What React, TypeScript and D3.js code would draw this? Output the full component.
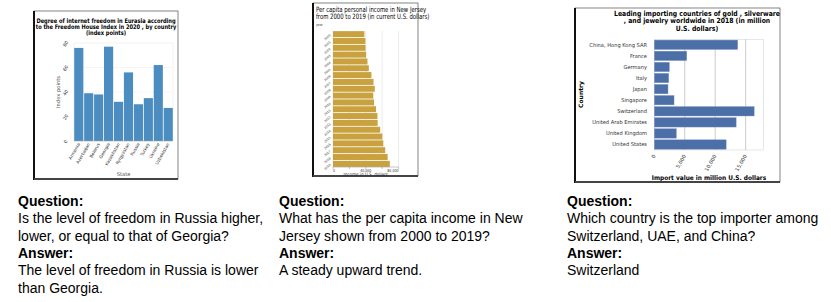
import * as d3 from "d3";

// ---- chart 1: internet freedom ----
const freedomTitle = [
  "Degree of internet freedom in Eurasia according",
  "to the Freedom House Index in 2020 , by country",
  "(index points)",
];
const freedomStates = [
  "Armenia", "Azerbaijan", "Belarus", "Georgia", "Kazakhstan",
  "Kyrgyzstan", "Russia", "Turkey", "Ukraine", "Uzbekistan",
];
const freedomScores = [76, 39, 38, 77, 32, 56, 30, 35, 62, 27];
const freedomTicks = [0, 20, 40, 60, 80];

// ---- chart 2: NJ per capita income ----
const incomeTitle = [
  "Per capita personal income in New Jersey",
  "from 2000 to 2019 (in current U.S. dollars)",
];
const incomeYears = [
  "2000", "2001", "2002", "2003", "2004", "2005", "2006", "2007", "2008", "2009",
  "2010", "2011", "2012", "2013", "2014", "2015", "2016", "2017", "2018", "2019",
];
const incomeValues = [
  38364, 39524, 39725, 40435, 42101, 43771, 46887, 49511, 51025, 49195,
  50118, 52547, 54273, 54553, 57620, 60264, 61472, 63775, 66727, 69378,
];
const incomeGrid = [0, 20000, 40000, 60000, 80000];
const incomeLabels = [0, 40000, 80000];

// ---- chart 3: gold importers ----
const importTitle = [
  "Leading importing countries of gold , silverware",
  ", and jewelry worldwide in 2018 (in million",
  "U.S. dollars)",
];
const importCountries = [
  "China, Hong Kong SAR", "France", "Germany", "Italy", "Japan", "Singapore",
  "Switzerland", "United Arab Emirates", "United Kingdom", "United States",
];
const importValues = [13700, 5330, 2470, 2370, 2250, 3240, 16400, 13440, 3620, 11800];
const importTicks = [0, 5000, 10000, 15000];

// ---- question / answer text ----
const qaBlocks = [
  {
    question: ["Is the level of freedom in Russia higher,", "lower, or equal to that of Georgia?"],
    answer: ["The level of freedom in Russia is lower", "than Georgia."],
  },
  {
    question: ["What has the per capita income in New", "Jersey shown from 2000 to 2019?"],
    answer: ["A steady upward trend."],
  },
  {
    question: ["Which country is the top importer among", "Switzerland, UAE, and China?"],
    answer: ["Switzerland"],
  },
];

const FONT = "DejaVu Sans, sans-serif";
const fmt = d3.format(",");

type STextProps = {
  x: number;
  y: number;
  sx?: number;
  rot?: number;
  anchor?: string;
  size: number;
  weight?: string | number;
  fill?: string;
  children: any;
};

// text squeezed horizontally, like the resized source images
const SText = ({ x, y, sx = 1, rot = 0, anchor = "start", size, weight = "normal", fill = "#000", children }: STextProps) => (
  <text
    transform={`translate(${x},${y}) rotate(${rot}) scale(${sx},1)`}
    textAnchor={anchor}
    fontSize={size}
    fontWeight={weight}
    fill={fill}
    fontFamily={FONT}
  >
    {children}
  </text>
);

const Frame = ({ x0, y0, x1, y1 }: { x0: number; y0: number; x1: number; y1: number }) => (
  <g>
    <rect x={x0} y={y0} width={x1 - x0} height={y1 - y0} fill="#fff" stroke="#333" strokeWidth={0.6} />
    <line x1={x0} x2={x0} y1={y0} y2={y1 + 1} stroke="#111" strokeWidth={2} />
    <line x1={x0} x2={x1} y1={y1} y2={y1} stroke="#444" strokeWidth={2} />
  </g>
);

const FreedomChart = () => {
  const x = d3.scaleBand().domain(freedomStates).range([74, 173]).paddingInner(0.08).paddingOuter(0.02);
  const y = d3.scaleLinear().domain([0, 80]).range([141, 43]);
  return (
    <g>
      <Frame x0={34} y0={11} x1={178} y1={179} />
      {freedomTitle.map((t, i) => (
        <SText key={i} x={106} y={22.5 + i * 6.3} sx={0.81} anchor="middle" size={6.3} weight="bold">
          {t}
        </SText>
      ))}
      <rect x={74} y={43} width={99} height={98} fill="none" stroke="#e4e4e4" strokeWidth={0.5} />
      {freedomTicks.slice(1, -1).map((t) => (
        <line key={t} x1={74} x2={173} y1={y(t)} y2={y(t)} stroke="#e0e0e0" strokeWidth={0.5} strokeDasharray="2,1" />
      ))}
      {freedomStates.map((s, i) => (
        <rect
          key={s}
          x={x(s)}
          y={y(freedomScores[i])}
          width={x.bandwidth()}
          height={y(0) - y(freedomScores[i])}
          fill="#4b8dc0"
        />
      ))}
      <line x1={74} x2={173} y1={141} y2={141} stroke="#aaa" strokeWidth={0.5} />
      {freedomTicks.map((t) => (
        <SText key={t} x={67} y={y(t) + 1.5} rot={-60} anchor="middle" size={4.6} fill="#333">
          {t}
        </SText>
      ))}
      {freedomStates.map((s) => (
        <SText key={s} x={(x(s) ?? 0) + x.bandwidth() / 2 + 1.5} y={144} rot={-60} anchor="end" size={4.4} fill="#333">
          {s}
        </SText>
      ))}
      <SText x={60} y={92} rot={-90} anchor="middle" size={5.2} fill="#555">
        Index points
      </SText>
      <SText x={123.5} y={176} anchor="middle" size={5.2} fill="#555">
        State
      </SText>
    </g>
  );
};

const IncomeChart = () => {
  const y = d3.scaleBand().domain(incomeYears).range([31, 167]).paddingInner(0.12).paddingOuter(0.02);
  const x = d3.scaleLinear().domain([0, 80000]).range([333, 398.5]);
  return (
    <g>
      <Frame x0={313} y0={3} x1={418} y1={176} />
      {incomeTitle.map((t, i) => (
        <SText key={i} x={316} y={11.5 + i * 7.4} sx={0.72} size={7.4}>
          {t}
        </SText>
      ))}
      <SText x={316} y={25.5} sx={0.8} size={3.8} fill="#333">
        year
      </SText>
      {incomeGrid.map((t) => (
        <line key={t} x1={x(t)} x2={x(t)} y1={31} y2={167} stroke="#ddd" strokeWidth={0.6} />
      ))}
      {incomeYears.map((yr, i) => (
        <rect
          key={yr}
          x={x(0)}
          y={y(yr)}
          width={x(incomeValues[i]) - x(0)}
          height={y.bandwidth()}
          fill="#c9a23f"
        />
      ))}
      <line x1={333} x2={398.5} y1={167} y2={167} stroke="#888" strokeWidth={0.5} />
      {incomeGrid.map((t) => (
        <line key={t} x1={x(t)} x2={x(t)} y1={167} y2={169} stroke="#888" strokeWidth={0.5} />
      ))}
      {incomeYears.map((yr) => (
        <SText key={yr} x={331} y={(y(yr) ?? 0) + y.bandwidth() / 2 + 1.5} rot={-40} anchor="end" size={3} fill="#333">
          {yr}
        </SText>
      ))}
      {incomeLabels.map((t, i) => (
        <SText
          key={t}
          x={x(t)}
          y={171.5}
          sx={0.8}
          anchor={i === 0 ? "start" : i === incomeLabels.length - 1 ? "end" : "middle"}
          size={4}
          fill="#333"
        >
          {fmt(t)}
        </SText>
      ))}
      <SText x={365.7} y={175.8} sx={0.85} anchor="middle" size={4.8} fill="#333">
        Income in U.S. dollars
      </SText>
    </g>
  );
};

const ImportChart = () => {
  const y = d3.scaleBand().domain(importCountries).range([39.3, 150]).paddingInner(0.15).paddingOuter(0.07);
  const x = d3.scaleLinear().domain([0, 17900]).range([654.3, 763.3]);
  return (
    <g>
      <Frame x0={575} y0={8} x1={780} y1={182} />
      {importTitle.map((t, i) => (
        <SText key={i} x={697} y={15.8 + i * 7.6} sx={0.86} anchor="middle" size={7.1} weight="bold">
          {t}
        </SText>
      ))}
      <rect x={654.3} y={39.3} width={109} height={110.7} fill="none" stroke="#d8d8d8" strokeWidth={0.6} />
      {importTicks.slice(1).map((t) => (
        <line key={t} x1={x(t)} x2={x(t)} y1={39.3} y2={150} stroke="#aaa" strokeWidth={0.6} />
      ))}
      {importCountries.map((c, i) => (
        <rect
          key={c}
          x={x(0)}
          y={y(c)}
          width={x(importValues[i]) - x(0)}
          height={y.bandwidth()}
          fill="#4c6fa8"
          stroke="#7f97c2"
          strokeWidth={0.4}
        />
      ))}
      {importCountries.map((c) => (
        <SText key={c} x={647} y={(y(c) ?? 0) + y.bandwidth() / 2 + 1.8} sx={0.95} anchor="end" size={5.4} fill="#333">
          {c}
        </SText>
      ))}
      {importTicks.map((t) => (
        <SText key={t} x={x(t) + 1.5} y={156} rot={-60} anchor="end" size={5.2} fill="#333">
          {fmt(t)}
        </SText>
      ))}
      <SText x={583} y={94.5} rot={-90} anchor="middle" size={6} weight="bold">
        Country
      </SText>
      <SText x={709} y={180.3} sx={0.9} anchor="middle" size={6.5} weight="bold">
        Import value in million U.S. dollars
      </SText>
    </g>
  );
};

const QA = ({ x, block }: { x: number; block: { question: string[]; answer: string[] } }) => {
  const lines = [
    { t: "Question:", bold: true },
    ...block.question.map((t) => ({ t, bold: false })),
    { t: "Answer:", bold: true },
    ...block.answer.map((t) => ({ t, bold: false })),
  ];
  return (
    <g>
      {lines.map((l, i) => (
        <text
          key={i}
          x={x}
          y={206 + i * 17.3}
          fontFamily="Liberation Sans, Arial, sans-serif"
          fontSize={14}
          fontWeight={l.bold ? "bold" : "normal"}
          fill="#000"
        >
          {l.t}
        </text>
      ))}
    </g>
  );
};

const qaX = [18, 279, 567];

export default function App() {
  return (
    <svg width={831} height={302} style={{ position: "absolute", left: 0, top: 0, background: "#fff" }}>
      <FreedomChart />
      <IncomeChart />
      <ImportChart />
      {qaBlocks.map((b, i) => (
        <QA key={i} x={qaX[i]} block={b} />
      ))}
    </svg>
  );
}
